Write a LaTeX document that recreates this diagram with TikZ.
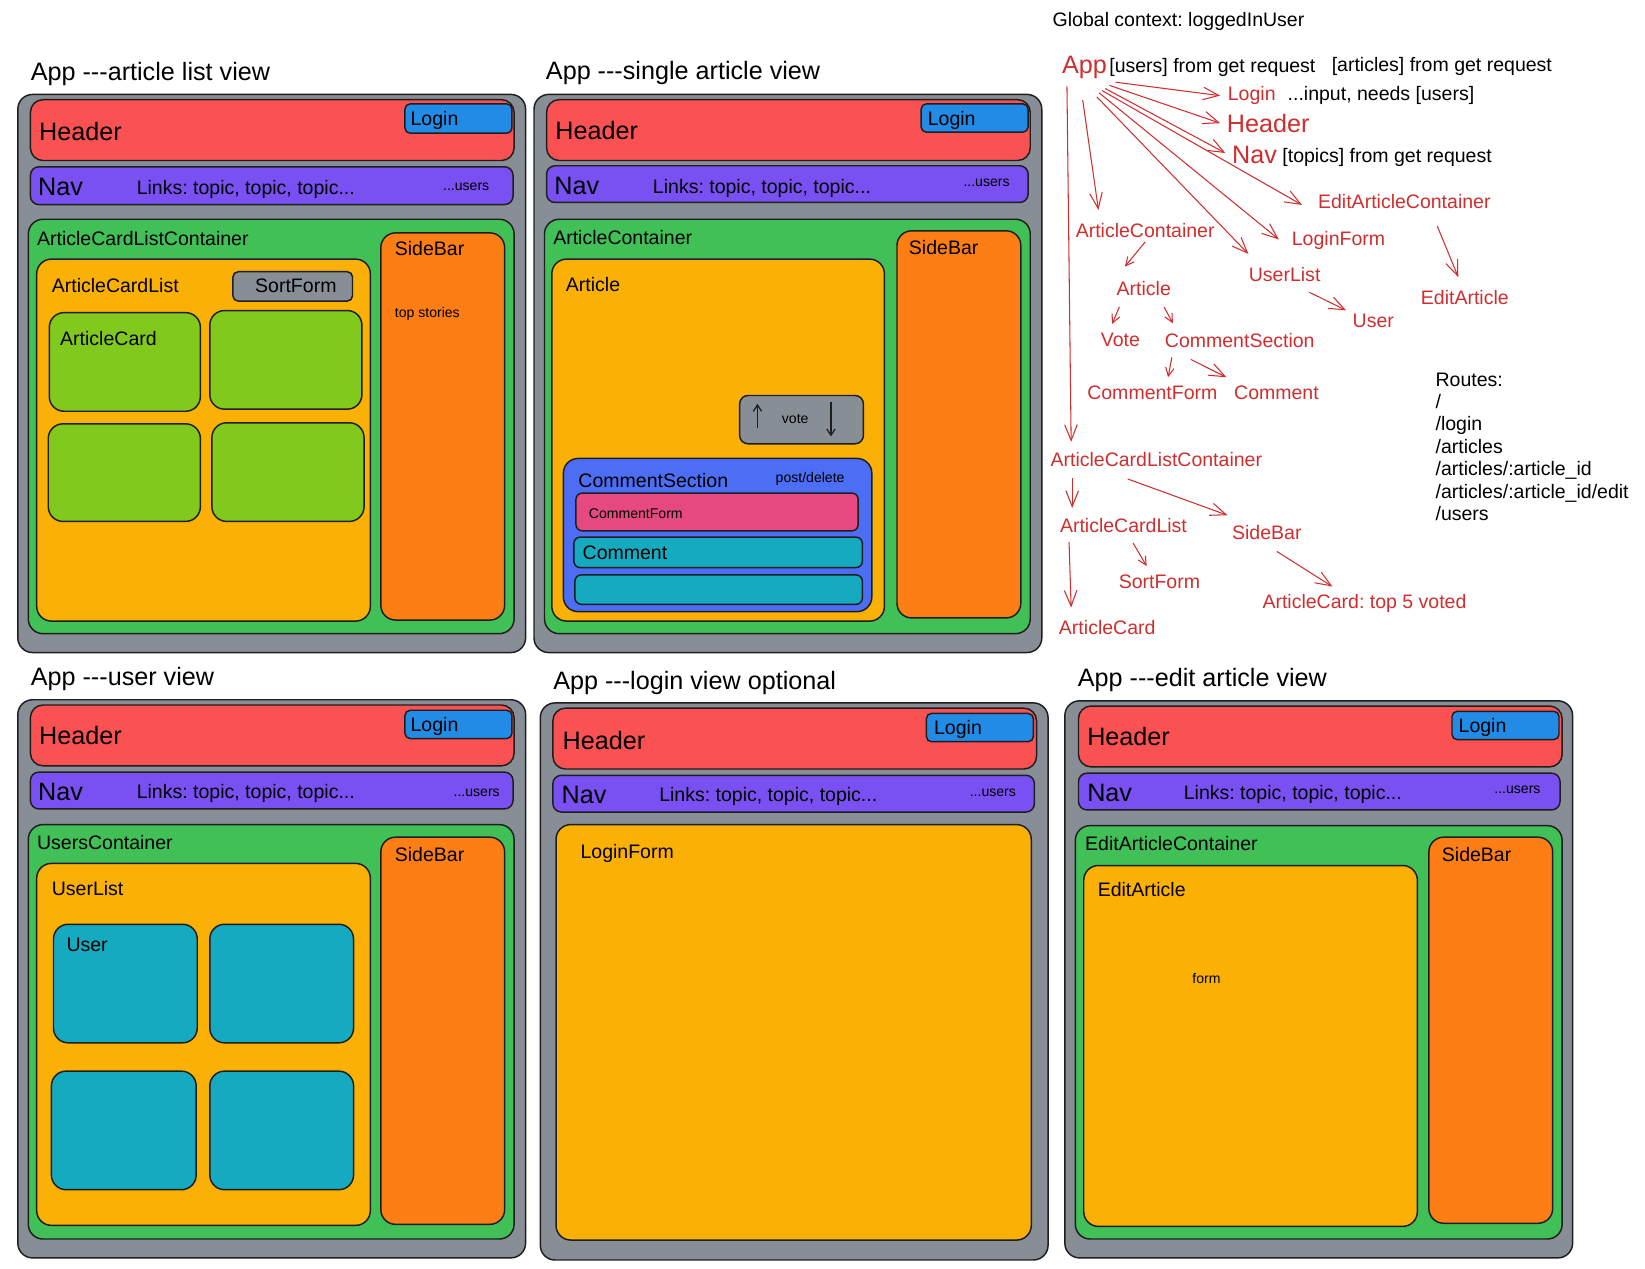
\documentclass[tikz,border=0pt]{standalone}
\usepackage{fontspec}
\setmainfont{Liberation Sans}[Ligatures=TeXOff]
\usetikzlibrary{fit,arrows.meta}
\frenchspacing
\definecolor{cgray}{HTML}{878E96}
\definecolor{chead}{HTML}{FA5252}
\definecolor{cnav}{HTML}{7950F2}
\definecolor{cgreen}{HTML}{40C057}
\definecolor{cyel}{HTML}{FAB005}
\definecolor{corange}{HTML}{FD7E14}
\definecolor{cblue}{HTML}{228BE6}
\definecolor{clime}{HTML}{82C91E}
\definecolor{ccyan}{HTML}{15AABF}
\definecolor{ccs}{HTML}{4C6EF5}
\definecolor{cpink}{HTML}{E64980}
\definecolor{tred}{HTML}{CF2E2E}
\definecolor{cline}{HTML}{1E1E1E}
\newcommand\fntL{\fontsize{12}{14}\selectfont}
\newcommand\fntM{\fontsize{9.3}{10.65}\selectfont}
\newcommand\fntS{\fontsize{6.7}{8}\selectfont}
\newcommand\bx[6][]{\node[bxs,#1,fit={(#3,#4)(#5,#6)}] (#2) {};}
\tikzset{
  bxs/.style={draw=cline, line width=0.7pt, inner sep=0pt, rounded corners=7pt},
  gbox/.style={fill=cgray},
  hbox/.style={fill=chead, rounded corners=6pt},
  nbox/.style={fill=cnav, rounded corners=4pt},
  lbox/.style={fill=cblue, rounded corners=2.5pt},
  grbox/.style={fill=cgreen},
  ybox/.style={fill=cyel},
  sbox/.style={fill=corange},
  tbox/.style={fill=clime},
  cbox/.style={fill=ccyan},
  lab/.style={anchor=base west, inner sep=0pt, font=\fntM, text=black},
  big/.style={lab, font=\fntL},
  sml/.style={lab, font=\fntS},
  rl/.style={lab, text=tred},
  rbig/.style={big, text=tred},
  rarr/.style={draw=tred, line width=0.5pt, -{Straight Barb[length=7.5pt,width=6pt]}},
  rarrs/.style={draw=tred, line width=0.5pt, -{Straight Barb[length=4pt,width=4pt]}},
  varr/.style={draw=cline, line width=0.6pt, -{Straight Barb[length=3pt,width=4pt]}},
}
\begin{document}
\begin{tikzpicture}[x=0.5pt,y=-0.5pt]
\useasboundingbox (0,0) rectangle (1568,1209);

% ---------------- Panel 1: article list view
\node[big] (t1) at (29,77) {App ---article list view};
\bx[gbox]{p1}{17}{90}{501}{622}
\bx[hbox]{p1h}{29}{95}{490}{153}
\node[big] (p1ht) at (37,134) {Header};
\bx[lbox]{p1l}{386}{99}{488}{127}
\node[lab] (p1lt) at (391,120) {Login};
\bx[nbox]{p1n}{29}{159}{489}{195}
\node[big] (p1nt) at (36,186) {Nav};
\node[lab] (p1nl) at (130,185) {Links: topic, topic, topic...};
\node[sml] (p1nu) at (422,182) {...users};
\bx[grbox]{p1c}{27}{209}{490}{604}
\node[lab] (p1ct) at (35,234) {ArticleCardListContainer};
\bx[ybox]{p1y}{35}{247}{353}{592}
\node[lab] (p1yt) at (49,279) {ArticleCardList};
\bx[gbox,rounded corners=2.5pt]{p1sf}{222}{259}{336}{287}
\node[lab,anchor=base] (p1sft) at (282,279) {SortForm};
\bx[tbox]{p1a}{47}{298}{191}{392}
\node[lab] (p1at) at (57,329) {ArticleCard};
\bx[tbox]{p1b}{200}{296}{345}{390}
\bx[tbox]{p1c2}{46}{404}{191}{497}
\bx[tbox]{p1d}{202}{403}{347}{497}
\bx[sbox]{p1s}{363}{222}{481}{591}
\node[lab] (p1st) at (376,244) {SideBar};
\node[sml] (p1ss) at (376,303) {top stories};

% ---------------- Panel 2: single article view
\node[big] (t2) at (520,76) {App ---single article view};
\bx[gbox]{p2}{509}{90}{993}{622}
\bx[hbox]{p2h}{521}{95}{982}{153}
\node[big] (p2ht) at (529,133) {Header};
\bx[lbox]{p2l}{878}{99}{980}{126}
\node[lab] (p2lt) at (884,120) {Login};
\bx[nbox]{p2n}{521}{158}{980}{193}
\node[big] (p2nt) at (528,185) {Nav};
\node[lab] (p2nl) at (622,184) {Links: topic, topic, topic...};
\node[sml] (p2nu) at (918,178) {...users};
\bx[grbox]{p2c}{519}{209}{982}{604}
\node[lab] (p2ct) at (527,233) {ArticleContainer};
\bx[ybox]{p2y}{526}{247}{843}{592}
\node[lab] (p2yt) at (539,278) {Article};
\bx[sbox]{p2s}{855}{220}{973}{589}
\node[lab] (p2st) at (866,243) {SideBar};
\bx[gbox,rounded corners=4pt]{p2v}{705}{377}{823}{423}
\node[sml,anchor=base] (p2vt) at (758,404) {vote};
\draw[varr] (722,408) -- (722,385);
\draw[varr] (792,383) -- (792,416);
\bx[fill=ccs]{p2cs}{537}{437}{831}{583}
\node[lab] (p2cst) at (551,465) {CommentSection};
\node[sml] (p2csp) at (739,460) {post/delete};
\bx[fill=cpink,rounded corners=3pt]{p2cf}{549}{470}{818}{506}
\node[sml] (p2cft) at (561,494) {CommentForm};
\bx[cbox,rounded corners=3pt]{p2cm}{547}{512}{822}{541}
\node[lab] (p2cmt) at (555,533) {Comment};
\bx[cbox,rounded corners=3pt]{p2cm2}{548}{548}{822}{576}

% ---------------- Panel 3: user view
\node[big] (t3) at (29,653) {App ---user view};
\bx[gbox]{p3}{17}{667}{501}{1199}
\bx[hbox]{p3h}{29}{672}{490}{730}
\node[big] (p3ht) at (37,710) {Header};
\bx[lbox]{p3l}{386}{677}{488}{704}
\node[lab] (p3lt) at (391,697) {Login};
\bx[nbox]{p3n}{29}{736}{489}{771}
\node[big] (p3nt) at (36,763) {Nav};
\node[lab] (p3nl) at (130,761) {Links: topic, topic, topic...};
\node[sml] (p3nu) at (432,759) {...users};
\bx[grbox]{p3c}{27}{786}{490}{1181}
\node[lab] (p3ct) at (35,810) {UsersContainer};
\bx[ybox]{p3y}{35}{823}{353}{1168}
\node[lab] (p3yt) at (49,854) {UserList};
\bx[cbox]{p3a}{51}{881}{188}{994}
\node[lab] (p3at) at (63,907) {User};
\bx[cbox]{p3b}{200}{881}{337}{994}
\bx[cbox]{p3c2}{49}{1021}{187}{1134}
\bx[cbox]{p3d}{200}{1021}{337}{1134}
\bx[sbox]{p3s}{363}{798}{481}{1167}
\node[lab] (p3st) at (376,821) {SideBar};

% ---------------- Panel 4: login view optional
\node[big] (t4) at (527,657) {App ---login view optional};
\bx[gbox]{p4}{515}{670}{999}{1201}
\bx[hbox]{p4h}{527}{675}{988}{733}
\node[big] (p4ht) at (536,714) {Header};
\bx[lbox]{p4l}{883}{680}{985}{707}
\node[lab] (p4lt) at (890,700) {Login};
\bx[nbox]{p4n}{527}{739}{986}{774}
\node[big] (p4nt) at (535,766) {Nav};
\node[lab] (p4nl) at (628,764) {Links: topic, topic, topic...};
\node[sml] (p4nu) at (924,759) {...users};
\bx[ybox]{p4y}{530}{786}{983}{1182}
\node[lab] (p4yt) at (553,818) {LoginForm};

% ---------------- Panel 5: edit article view
\node[big] (t5) at (1027,654) {App ---edit article view};
\bx[gbox]{p5}{1015}{668}{1499}{1199}
\bx[hbox]{p5h}{1028}{673}{1489}{731}
\node[big] (p5ht) at (1036,711) {Header};
\bx[lbox]{p5l}{1384}{678}{1486}{705}
\node[lab] (p5lt) at (1390,698) {Login};
\bx[nbox]{p5n}{1028}{737}{1487}{772}
\node[big] (p5nt) at (1036,764) {Nav};
\node[lab] (p5nl) at (1128,762) {Links: topic, topic, topic...};
\node[sml] (p5nu) at (1424,756) {...users};
\bx[grbox]{p5c}{1025}{787}{1489}{1181}
\node[lab] (p5ct) at (1034,811) {EditArticleContainer};
\bx[ybox]{p5y}{1033}{825}{1351}{1169}
\node[lab] (p5yt) at (1046,855) {EditArticle};
\node[sml,anchor=base] (p5f) at (1150,937) {form};
\bx[sbox]{p5s}{1362}{798}{1480}{1166}
\node[lab] (p5st) at (1374,821) {SideBar};

% ---------------- Component tree
\node[lab] (gc) at (1003,25) {Global context: loggedInUser};
\node[rbig] (app) at (1012,70) {App};
\node[lab] (ureq) at (1057,69) {[users] from get request};
\node[lab] (areq) at (1269,68) {[articles] from get request};
\node[rl] (tlogin) at (1170,96) {Login};
\node[lab] (needs) at (1227,96) {...input, needs [users]};
\node[rbig] (theader) at (1169,126) {Header};
\node[rbig] (tnav) at (1174,156) {Nav};
\node[lab] (topics) at (1222,155) {[topics] from get request};
\node[rl] (teac) at (1256,199) {EditArticleContainer};
\node[rl] (tac) at (1025,226) {ArticleContainer};
\node[rl] (tlf) at (1231,234) {LoginForm};
\node[rl] (tul) at (1190,268) {UserList};
\node[rl] (tart) at (1064,282) {Article};
\node[rl] (tea) at (1354,290) {EditArticle};
\node[rl] (tuser) at (1289,312) {User};
\node[rl] (tvote) at (1049,330) {Vote};
\node[rl] (tcs) at (1110,331) {CommentSection};
\node[rl] (tcf) at (1036,381) {CommentForm};
\node[rl] (tcom) at (1176,381) {Comment};
\node[rl] (taclc) at (1001,445) {ArticleCardListContainer};
\node[rl] (tacl) at (1010,508) {ArticleCardList};
\node[rl] (tsb) at (1174,514) {SideBar};
\node[rl] (tsf) at (1066,561) {SortForm};
\node[rl] (tac5) at (1203,580) {ArticleCard: top 5 voted};
\node[rl] (tacard) at (1009,605) {ArticleCard};
\node[lab, anchor=north west, align=left] (routes) at (1368,355)
  {Routes:\\/\\/login\\/articles\\/articles/:article\_id\\/articles/:article\_id/edit\\/users};

\draw[rarr] ([shift={(8,3)}]app.south east) -- ([shift={(-7,0)}]tlogin.west);
\draw[rarr] ([shift={(2,6)}]app.south east) -- ([shift={(-6,0)}]theader.west);
\draw[rarr] ([shift={(-2,9)}]app.south east) -- ([shift={(-6,-2)}]tnav.west);
\draw[rarr] ([shift={(-5,11)}]app.south east) -- ([shift={(-15,3)}]teac.west);
\draw[rarr] ([shift={(-8,13)}]app.south east) -- ([shift={(-12,-1)}]tlf.west);
\draw[rarr] ([shift={(-10,17)}]app.south east) -- ([shift={(0,-12)}]tul.north west);
\draw[rarr] ([shift={(20,20)}]app.south west) -- ([shift={(22,-12)}]tac.north west);
\draw[rarr] ([shift={(5,7)}]app.south west) -- ([shift={(20,-10)}]taclc.north west);
\draw[rarrs] ([shift={(0,4)}]tac.south) -- ([shift={(-18,-14)}]tart.north);
\draw[rarrs] ([shift={(3,10)}]tart.south west) -- ([shift={(-8,-8)}]tvote.north);
\draw[rarrs] ([shift={(-7,10)}]tart.south east) -- ([shift={(8,-9)}]tcs.north west);
\draw[rarrs] ([shift={(7,9)}]tcs.south west) -- ([shift={(15,-8)}]tcf.north);
\draw[rarr] ([shift={(25,11)}]tcs.south west) -- ([shift={(-7,-8)}]tcom.north west);
\draw[rarr] ([shift={(-11,10)}]tul.south east) -- ([shift={(-6,-3)}]tuser.north west);
\draw[rarr] ([shift={(114,16)}]teac.south west) -- ([shift={(36,-12)}]tea.north west);
\draw[rarr] ([shift={(21,10)}]taclc.south west) -- ([shift={(12,-10)}]tacl.north west);
\draw[rarr] ([shift={(74,11)}]taclc.south west) -- ([shift={(-4,-9)}]tsb.north west);
\draw[rarrs] ([shift={(70,9)}]tacl.south west) -- ([shift={(27,-8)}]tsf.north west);
\draw[rarr] ([shift={(9,8)}]tacl.south west) -- ([shift={(12,-12)}]tacard.north west);
\draw[rarr] ([shift={(43,11)}]tsb.south west) -- ([shift={(67,-7)}]tac5.north west);
\end{tikzpicture}
\end{document}
